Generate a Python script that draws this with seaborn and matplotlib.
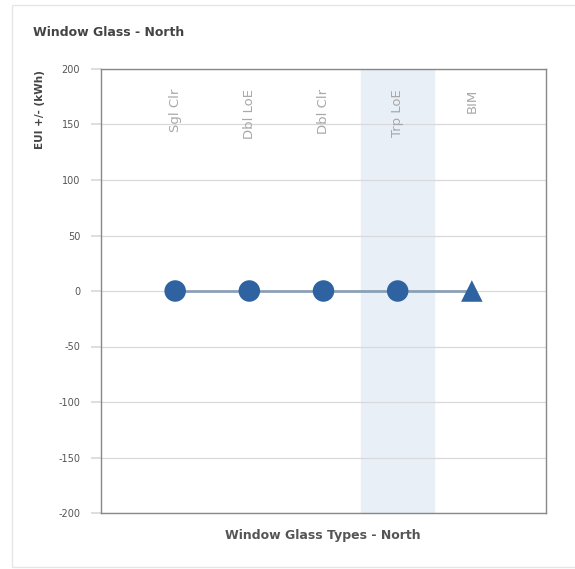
import matplotlib
matplotlib.use("Agg")
import matplotlib.pyplot as plt
from matplotlib.patches import Rectangle
import seaborn as sns
import pandas as pd

# Chart data
glass_types = ["Sgl Clr", "Dbl LoE", "Dbl Clr", "Trp LoE", "BIM"]
eui_change = [0, 0, 0, 0, 0]
marker_kind = ["option", "option", "option", "option", "baseline"]
highlighted = "Trp LoE"
y_ticks = [-200, -150, -100, -50, 0, 50, 100, 150, 200]

sns.set_theme(style="white")
font = ["DejaVu Sans"]

df = pd.DataFrame({"glass": glass_types, "eui": eui_change, "kind": marker_kind})
df["pos"] = range(len(df))

W, H = 575, 569
fig = plt.figure(figsize=(W / 100, H / 100), dpi=100)
ax = fig.add_axes([101 / W, 1 - 513 / H, 445 / W, 444 / H])

# card outline
fig.patches.append(Rectangle((12 / W, 2 / H), 1.2, 1 - 7 / H, transform=fig.transFigure,
                             fill=False, edgecolor="#e6e6e6", linewidth=1.0))

blue = "#2f62a0"
line_col = "#8aa0b6"

hi = glass_types.index(highlighted)
ax.axvspan(hi - 0.49, hi + 0.49, color="#e8eff7", zorder=0)

sns.lineplot(data=df, x="pos", y="eui", ax=ax, color=line_col, linewidth=2, zorder=2)
sns.scatterplot(data=df, x="pos", y="eui", style="kind", markers={"option": "o", "baseline": "^"},
                s=240, color=blue, edgecolor=blue, linewidth=0, legend=False, ax=ax, zorder=3)

ax.set_xlim(-1, 5)
ax.set_ylim(-200, 200)
ax.set_yticks(y_ticks)
ax.set_yticklabels([str(v) for v in y_ticks], fontsize=7, color="#555555", family=font)
ax.set_xticks([])
ax.yaxis.grid(True, color="#d9d9d9", linewidth=0.9)
ax.tick_params(axis="y", length=7, color="#d9d9d9", pad=8, left=True)
for s in ax.spines.values():
    s.set_color("#888888")
    s.set_linewidth(1.0)
ax.set_xlabel("")
ax.set_ylabel("")

for i, name in enumerate(glass_types):
    ax.text(i, 182, name, rotation=90, ha="center", va="top", fontsize=9.5,
            color="#a8a8a8", family=font, zorder=1)

fig.text(33 / W, 1 - 33 / H, "Window Glass - North", fontsize=9, fontweight="bold",
         color="#444444", family=font, ha="left", va="center")
fig.text(323 / W, 1 - 535 / H, "Window Glass Types - North", fontsize=9, fontweight="bold",
         color="#555555", family=font, ha="center", va="center")
fig.text(40 / W, 1 - 110 / H, "EUI +/- (kWh)", fontsize=7.5, fontweight="bold", rotation=90,
         color="#444444", family=font, ha="center", va="center")

fig.savefig("out.png", dpi=100, facecolor="white")
